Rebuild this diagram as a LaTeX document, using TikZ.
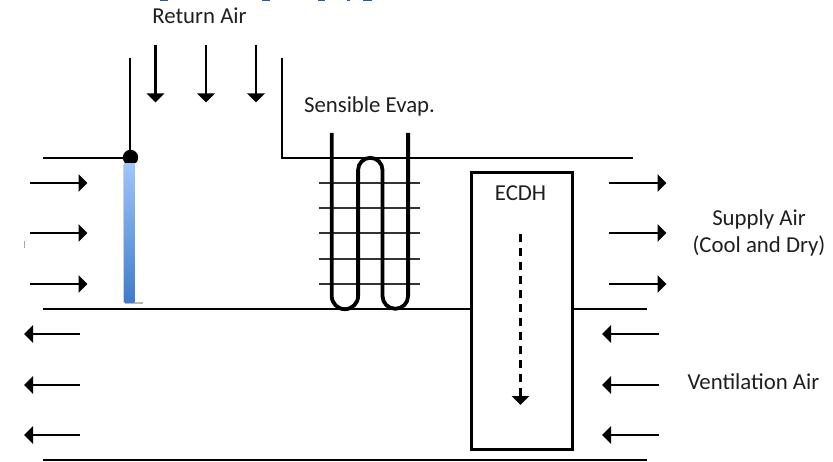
\documentclass[tikz,border=0pt]{standalone}
\usepackage{fontspec}
\setmainfont{Carlito}
\usetikzlibrary{arrows.meta}
\definecolor{titleblue}{HTML}{1F5FA8}
\definecolor{bladetop}{HTML}{A0C6FB}
\definecolor{bladebot}{HTML}{3F7BCB}
\tikzset{
  x=1pt,y=-1pt,
  duct/.style={line width=2.6pt,black},
  flow/.style={line width=2.6pt,-{Triangle[length=9pt,width=17pt]}},
  coil/.style={line width=3.8pt,black},
  fin/.style={line width=1.3pt,black!80},
  lab/.style={font=\fontsize{22.8}{27}\selectfont,text=black!88,inner sep=0pt,align=center},
}
\begin{document}
\begin{tikzpicture}
\useasboundingbox[fill=white] (0,0) rectangle (833,462);
% clipped title remnants
\foreach \a/\b in {160/168,262/270,318/325,347/350,363/372}
  \fill[titleblue] (\a,0) rectangle (\b,1.2);
\fill[black!35] (23.6,241) rectangle (24.4,248);
% blade
\fill[black!18] (122.8,165) rectangle (124.5,302);
\fill[black!28] (124.5,302) rectangle (143,304.5);
\shade[top color=bladetop,bottom color=bladebot] (124.4,162) rectangle (134.4,302.5);
% ducts
\coordinate (dampL) at (130,158);
\coordinate (dampTop) at (130,58);
\coordinate (retTop) at (282,58);
\coordinate (retCorner) at (282,158);
\draw[duct] (43,158) -- (dampL) -- (dampTop);
\draw[duct] (retTop) -- (retCorner) -- (633,158);
\begin{scope}
\clip (115,145) rectangle (145,162.5);
\fill[black] (130.5,157.5) circle[radius=7.7];
\end{scope}
% ECDH
\node[draw,line width=2.6pt,minimum width=101pt,minimum height=277pt,inner sep=0pt,anchor=north west] (ecdh) at (470,171) {};
\node[lab] (ecdhlab) at (520.5,193) {ECDH};
\draw[duct] (43,309) -- (ecdh.west |- 0,309);
\draw[duct] (ecdh.east |- 0,309) -- (647,309);
\draw[duct] (43,460) -- (647,460);
\draw[line width=2.6pt,dash pattern=on 8pt off 6pt,-{Triangle[length=9pt,width=17pt]}] (520.5,234) -- (520.5,405);
% fins
\foreach \y in {183,208,233,259,284} \draw[fin] (319,\y) -- (420,\y);
% coil
\draw[coil,line join=round] (331.7,133) -- (331.7,296) arc[start angle=180,end angle=0,radius=13.2] -- (358.1,170) arc[start angle=180,end angle=360,radius=12.2] -- (382.5,296) arc[start angle=180,end angle=0,radius=12.8] -- (408.1,133);
% flow arrows
\foreach \x in {155.5,206,256} \draw[flow] (\x,45) -- (\x,102.5);
\foreach \y in {183,233,284} {
  \draw[flow] (30,\y) -- (87.5,\y);
  \draw[flow] (609,\y) -- (666.5,\y);
}
\foreach \y in {334,385,435} {
  \draw[flow] (80,\y) -- (24,\y);
  \draw[flow] (659,\y) -- (602,\y);
}
% labels
\node[lab] (ret) at (199.5,16) {Return Air};
\node[lab] (evap) at (369.5,106) {Sensible Evap.};
\node[lab] (sup) at (759,232.5) {Supply Air\\(Cool and Dry)};
\node[lab] (vent) at (753.5,382) {Ventilation Air};
\end{tikzpicture}
\end{document}
